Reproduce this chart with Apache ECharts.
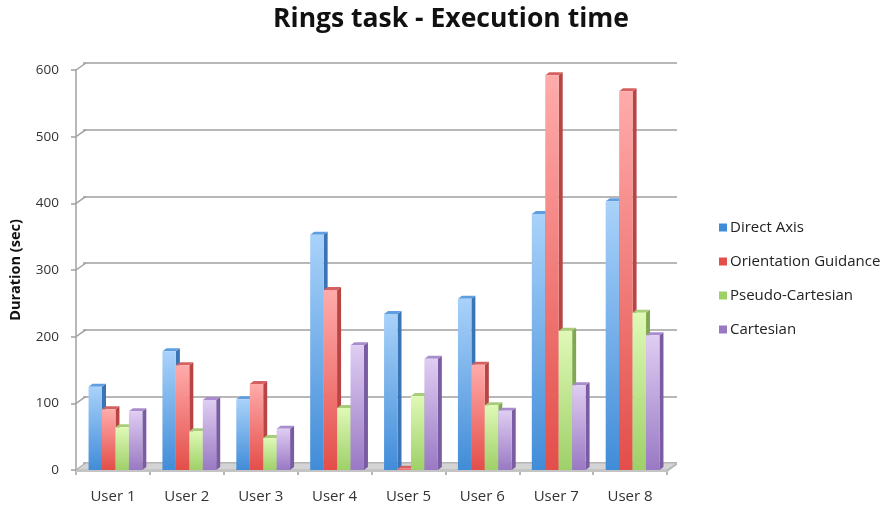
<!DOCTYPE html>
<html>
<head>
<meta charset="utf-8">
<title>Rings task - Execution time</title>
<script src="https://cdn.jsdelivr.net/npm/echarts@6/dist/echarts.min.js"></script>
<style>
  html, body { margin: 0; padding: 0; background: #fff; }
  #chart { width: 886px; height: 510px; }
</style>
</head>
<body>
<div id="chart"></div>
<script>
// Durations in seconds per user and guidance technique
var users = ['User 1', 'User 2', 'User 3', 'User 4', 'User 5', 'User 6', 'User 7', 'User 8'];
var directAxis = [125, 178, 106, 353, 234, 257, 384, 403];
var orientationGuidance = [91, 157, 129, 270, 2, 158, 592, 568];
var pseudoCartesian = [64, 58, 48, 93, 111, 97, 209, 236];
var cartesian = [88, 105, 62, 187, 167, 89, 127, 202];
var yTicks = [0, 100, 200, 300, 400, 500, 600];

var seriesNames = ['Direct Axis', 'Orientation Guidance', 'Pseudo-Cartesian', 'Cartesian'];
var seriesData = [directAxis, orientationGuidance, pseudoCartesian, cartesian];

// face colours: [front top, front bottom, side, top]
var palette = [
  ['#a9d2fa', '#418cd8', '#3b74b4', '#5f9ee0'],
  ['#ffabab', '#e34e49', '#b84444', '#d46060'],
  ['#dff9b6', '#9ed068', '#80a852', '#a8cc7a'],
  ['#dfcdf2', '#9979c4', '#7a5ca2', '#a88ccc']
];

var FONT = 'Open Sans';
var DEPTH_X = 4, DEPTH_Y = 3;      // bar extrusion
var WALL_X = 10, WALL_Y = 7;       // back wall offset
var BAR_FRAC = 0.182;              // bar width as fraction of category
var GROUP_SHIFT = 0.034;           // group shift as fraction of category

var chart = echarts.init(document.getElementById('chart'));

function barRenderer(sIdx) {
  var c = palette[sIdx];
  return function (params, api) {
    var cat = api.value(0);
    var val = api.value(1);
    var top = api.coord([cat, val]);
    var base = api.coord([cat, 0]);
    var band = api.size([1, 0])[0];
    var w = band * BAR_FRAC;
    var x0 = top[0] + band * GROUP_SHIFT - 2 * w + sIdx * w;
    var x1 = x0 + w;
    var yT = top[1], yB = base[1];
    return {
      type: 'group',
      children: [
        {
          type: 'polygon',
          shape: { points: [[x1, yT], [x1 + DEPTH_X, yT - DEPTH_Y], [x1 + DEPTH_X, yB - DEPTH_Y], [x1, yB]] },
          style: { fill: c[2] }
        },
        {
          type: 'polygon',
          shape: { points: [[x0, yT], [x0 + DEPTH_X, yT - DEPTH_Y], [x1 + DEPTH_X, yT - DEPTH_Y], [x1, yT]] },
          style: { fill: c[3] }
        },
        {
          type: 'rect',
          shape: { x: x0, y: yT, width: w, height: yB - yT },
          style: {
            fill: new echarts.graphic.LinearGradient(0, 0, 0, 1, [
              { offset: 0, color: c[0] },
              { offset: 1, color: c[1] }
            ])
          }
        }
      ]
    };
  };
}

var barSeries = seriesNames.map(function (name, i) {
  return {
    name: name,
    type: 'custom',
    xAxisIndex: 0,
    yAxisIndex: 0,
    z: 10 + i,
    itemStyle: { color: palette[i][1] },
    renderItem: barRenderer(i),
    data: seriesData[i].map(function (v, k) { return [k, v]; })
  };
});

// floor slab under the bars
var floorSeries = {
  type: 'custom',
  xAxisIndex: 0,
  yAxisIndex: 0,
  z: 5,
  silent: true,
  renderItem: function (params, api) {
    var cs = params.coordSys;
    var y = api.coord([0, 0])[1];
    var xl = cs.x, xr = cs.x + cs.width;
    return {
      type: 'group',
      children: [
        {
          type: 'polygon',
          shape: { points: [[xl, y], [xl + WALL_X, y - WALL_Y], [xr + WALL_X, y - WALL_Y], [xr, y]] },
          style: { fill: '#d4d4d4', stroke: '#b4b4b4', lineWidth: 1 }
        },
        {
          type: 'polygon',
          shape: { points: [[xr, y], [xr + WALL_X, y - WALL_Y], [xr + WALL_X, y - WALL_Y + 2], [xr, y + 2]] },
          style: { fill: '#b8b8b8' }
        },
        {
          type: 'rect',
          shape: { x: xl, y: y, width: xr - xl, height: 2 },
          style: { fill: '#c4c4c4' }
        }
      ]
    };
  },
  data: [[0, 0]]
};

// diagonal joins from the value axis to the back wall grid lines
var joinSeries = {
  type: 'custom',
  xAxisIndex: 0,
  yAxisIndex: 0,
  z: 4,
  silent: true,
  renderItem: function (params, api) {
    var cs = params.coordSys;
    var y = api.coord([0, api.value(1)])[1];
    return {
      type: 'line',
      shape: { x1: cs.x, y1: y, x2: cs.x + WALL_X, y2: y - WALL_Y },
      style: { stroke: '#a0a0a0', lineWidth: 1.5 }
    };
  },
  data: yTicks.map(function (v) { return [0, v]; })
};

var option = {
  backgroundColor: '#ffffff',
  animation: false,
  title: {
    text: 'Rings task - Execution time',
    left: 446,
    textAlign: 'center',
    top: 1,
    textStyle: { fontFamily: FONT, fontWeight: 'bold', fontSize: 26.5, color: '#111' }
  },
  legend: {
    orient: 'vertical',
    left: 714,
    top: 215,
    itemWidth: 8,
    itemHeight: 8,
    itemGap: 19,
    icon: 'rect',
    textStyle: { fontFamily: FONT, fontSize: 15, color: '#222', padding: [0, 0, 0, -2] },
    data: seriesNames
  },
  grid: [
    { left: 73, right: 219, top: 70, bottom: 40 },
    { left: 73 + WALL_X, right: 219 - WALL_X, top: 70 - WALL_Y, bottom: 40 + WALL_Y }
  ],
  xAxis: [
    {
      type: 'category',
      gridIndex: 0,
      data: users,
      axisLine: { show: true, lineStyle: { color: '#a0a0a0', width: 1.5 } },
      axisTick: { show: true, length: 5, lineStyle: { color: '#a0a0a0', width: 1.5 } },
      axisLabel: { margin: 19, fontFamily: FONT, fontSize: 15, color: '#333' },
      splitLine: { show: false }
    },
    {
      type: 'category',
      gridIndex: 1,
      data: users,
      show: false
    }
  ],
  yAxis: [
    {
      type: 'value',
      gridIndex: 0,
      min: 0,
      max: 600,
      interval: 100,
      name: 'Duration (sec)',
      nameLocation: 'middle',
      nameRotate: 90,
      nameGap: 53,
      nameTextStyle: { fontFamily: FONT, fontWeight: 'bold', fontSize: 14.5, color: '#111' },
      axisLine: { show: true, lineStyle: { color: '#a0a0a0', width: 1.5 } },
      axisTick: { show: true, length: 5, lineStyle: { color: '#a0a0a0', width: 1.5 } },
      axisLabel: { margin: 17, fontFamily: FONT, fontSize: 13.5, color: '#333' },
      splitLine: { show: false }
    },
    {
      type: 'value',
      gridIndex: 1,
      min: 0,
      max: 600,
      interval: 100,
      axisLine: { show: false },
      axisTick: { show: false },
      axisLabel: { show: false },
      splitLine: { show: true, lineStyle: { color: '#a0a0a0', width: 1.5 } }
    }
  ],
  series: [joinSeries, floorSeries].concat(barSeries)
};

chart.setOption(option);
</script>
</body>
</html>
